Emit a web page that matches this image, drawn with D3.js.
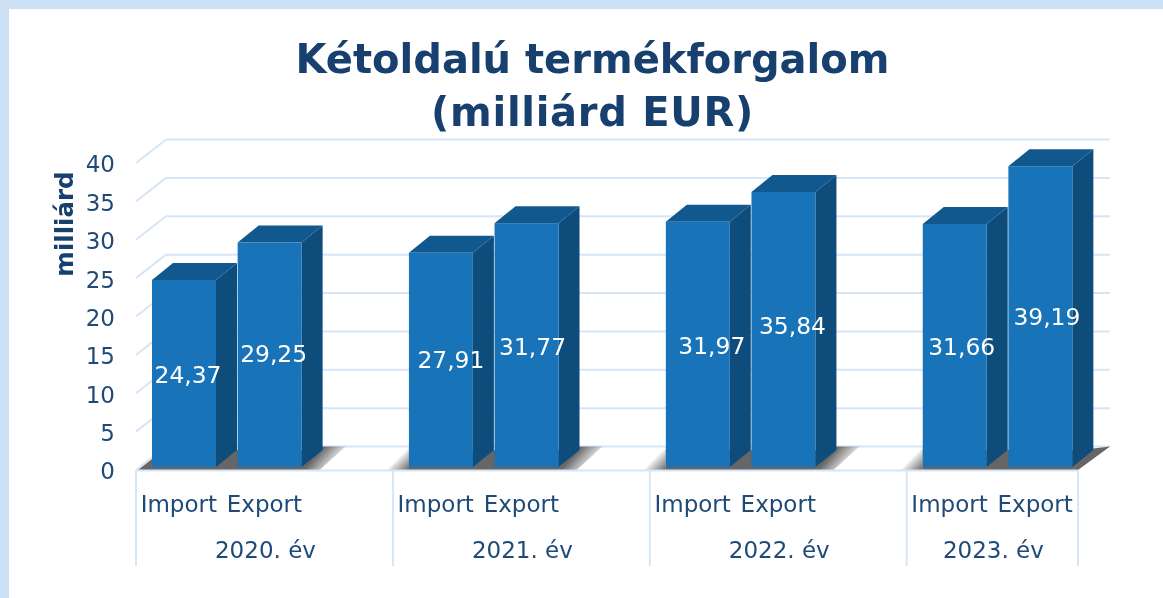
<!DOCTYPE html>
<html>
<head>
<meta charset="utf-8">
<script src="https://cdn.jsdelivr.net/npm/d3@7"></script>
<style>
    html, body { margin: 0; padding: 0; background: #fff; overflow: hidden; }
    svg { display: block; filter: blur(0.4px); }
    text { font-family: "DejaVu Sans", sans-serif; }
</style>
</head>
<body>
<div id="chart"></div>
<script>
const years = ['2020. év', '2021. év', '2022. év', '2023. év'];
const seriesNames = ['Import', 'Export'];
const importValues = [24.37, 27.91, 31.97, 31.66];
const exportValues = [29.25, 31.77, 35.84, 39.19];
const yTicks = [0, 5, 10, 15, 20, 25, 30, 35, 40];
// the source chart has its labels nudged by hand, off the bar centre
const importNudge = [4, 10, 14, 7];
const exportNudge = [4, 6, 9, 6.5];
const importLift = [0, 1, 0, 0];
const exportLift = [2, 0, 5, 1];

const width = 1163, height = 598;
const textColor = '#1f4a78';
const gridColor = '#d6e6f8';
const depthX = 30, depthY = 23.5;
const barDepthX = 21, barDepthY = 17;

const svg = d3.select('#chart').append('svg').attr('width', width).attr('height', height);
const defs = svg.append('defs');

// page frame
svg.append('rect').attr('width', width).attr('height', 9).attr('fill', '#cddff4');
svg.append('rect').attr('width', 9).attr('height', height).attr('fill', '#cddff4');

// 11 slots: two bars per year and an empty one between the years
const slots = [];
years.forEach((year, i) => {
    seriesNames.forEach(name => slots.push(year + '|' + name));
    if (i < years.length - 1) slots.push(year + '|gap');
});
const x = d3.scaleBand().domain(slots).range([136, 1078]);
const y = d3.scaleLinear().domain([0, 40]).range([470, 163]);
const barOffset = x.bandwidth() * 0.187;
const barWidth = x.bandwidth() * 0.747;
const barBase = 3;

// title
const title = svg.append('text')
    .attr('text-anchor', 'middle')
    .attr('font-size', 40)
    .attr('font-weight', 'bold')
    .attr('fill', '#17406f');
title.append('tspan').attr('x', 592.5).attr('y', 73).text('Kétoldalú termékforgalom');
title.append('tspan').attr('x', 592.5).attr('y', 126).attr('letter-spacing', 0.7).text('(milliárd EUR)');

// back wall and side wall grid
const wall = svg.append('g').attr('fill', 'none').attr('stroke', gridColor).attr('stroke-width', 2);
wall.selectAll('.back').data(yTicks).enter().append('line')
    .attr('class', 'back')
    .attr('x1', 136 + depthX).attr('x2', 1110)
    .attr('y1', d => y(d) - depthY).attr('y2', d => y(d) - depthY);
wall.selectAll('.side').data(yTicks).enter().append('line')
    .attr('class', 'side')
    .attr('x1', 136).attr('x2', 136 + depthX)
    .attr('y1', d => y(d)).attr('y2', d => y(d) - depthY);

// floor shadow
const shadowColor = '#666';
function fadeGradient(id, x1, y1, x2, y2) {
    const g = defs.append('linearGradient').attr('id', id)
        .attr('gradientUnits', 'userSpaceOnUse')
        .attr('x1', x1).attr('y1', y1).attr('x2', x2).attr('y2', y2);
    g.append('stop').attr('offset', 0).attr('stop-color', shadowColor);
    g.append('stop').attr('offset', 1).attr('stop-color', shadowColor).attr('stop-opacity', 0);
}
const shadow = svg.append('g');
const floorY = y(0);
const barBottom = floorY - barBase;
years.forEach((year, i) => {
    const left = x(year + '|Import') + barOffset;
    const right = x(year + '|Export') + barOffset + barWidth;
    const last = i === years.length - 1;

    shadow.append('polygon')
        .attr('points', [[left, barBottom], [left, barBottom - barDepthY], [right + barDepthX, barBottom - barDepthY], [right, floorY], [left, floorY]].join(' '))
        .attr('fill', shadowColor);

    if (i === 0) {
        shadow.append('polygon')
            .attr('points', [[left - 14, floorY], [left, floorY - 11], [left, floorY]].join(' '))
            .attr('fill', shadowColor);
    } else {
        fadeGradient('fade-left-' + i, left, floorY, left - 12, floorY - 12);
        shadow.append('polygon')
            .attr('points', [[left - 22, floorY], [left, floorY - 22], [left, floorY]].join(' '))
            .attr('fill', 'url(#fade-left-' + i + ')');
    }

    if (last) {
        shadow.append('polygon')
            .attr('points', [[right, floorY], [right + barDepthX, floorY - depthY + 2], [1110, floorY - depthY], [1078, floorY]].join(' '))
            .attr('fill', shadowColor);
    } else {
        fadeGradient('fade-right-' + i, right + 12, floorY - 12, right + 28, floorY + 2);
        shadow.append('polygon')
            .attr('points', [[right, floorY], [right + barDepthX, floorY - depthY], [right + 44, floorY - depthY], [right + 18, floorY]].join(' '))
            .attr('fill', 'url(#fade-right-' + i + ')');
    }
});

// bars
const bars = [];
years.forEach((year, i) => {
    bars.push({ slot: year + '|Import', value: importValues[i], nudge: importNudge[i], lift: importLift[i] });
    bars.push({ slot: year + '|Export', value: exportValues[i], nudge: exportNudge[i], lift: exportLift[i] });
});
const bar = svg.append('g').selectAll('g').data(bars).enter().append('g')
    .attr('transform', d => `translate(${x(d.slot) + barOffset},0)`);
const barTop = d => y(d.value) - barBase;

bar.append('polygon')
    .attr('points', d => [[barWidth, barTop(d)], [barWidth + barDepthX, barTop(d) - barDepthY], [barWidth + barDepthX, barBottom - barDepthY], [barWidth, barBottom]].join(' '))
    .attr('fill', '#0e4c7c');
bar.append('polygon')
    .attr('points', d => [[0, barTop(d)], [barDepthX, barTop(d) - barDepthY], [barWidth + barDepthX, barTop(d) - barDepthY], [barWidth, barTop(d)]].join(' '))
    .attr('fill', '#11588f');
bar.append('rect')
    .attr('y', barTop)
    .attr('width', barWidth)
    .attr('height', d => barBottom - barTop(d))
    .attr('fill', '#1873b9');

// value labels
bar.append('text')
    .attr('x', d => barWidth / 2 + d.nudge)
    .attr('y', d => (barTop(d) + barBottom) / 2 + 1 - d.lift)
    .attr('dy', '0.36em')
    .attr('text-anchor', 'middle')
    .attr('font-size', 23.4)
    .attr('fill', '#fff')
    .text(d => d.value.toFixed(2).replace('.', ','));

// category axis lines
const axisLines = svg.append('g').attr('stroke', gridColor).attr('stroke-width', 2);
axisLines.append('line').attr('x1', 136).attr('x2', 1078).attr('y1', floorY + 0.5).attr('y2', floorY + 0.5);
const separators = years.map(year => x(year + '|Import')).concat([x.range()[1]]);
axisLines.selectAll('.sep').data(separators).enter().append('line')
    .attr('class', 'sep')
    .attr('x1', d => d).attr('x2', d => d)
    .attr('y1', floorY).attr('y2', 566);

// category labels
svg.append('g').selectAll('text').data(bars).enter().append('text')
    .attr('x', d => x(d.slot) + x.bandwidth() / 2)
    .attr('y', 512)
    .attr('text-anchor', 'middle')
    .attr('font-size', 23)
    .attr('fill', textColor)
    .text(d => d.slot.split('|')[1]);
svg.append('g').selectAll('text').data(years).enter().append('text')
    .attr('x', (d, i) => (separators[i] + separators[i + 1]) / 2 + 1)
    .attr('y', 558)
    .attr('text-anchor', 'middle')
    .attr('font-size', 23)
    .attr('fill', textColor)
    .text(d => d);

// value axis
const yAxis = svg.append('g')
    .attr('transform', 'translate(115,1.5)')
    .call(d3.axisLeft(y).tickValues(yTicks).tickSize(0).tickPadding(0));
yAxis.select('.domain').remove();
yAxis.selectAll('text')
    .attr('font-family', '"DejaVu Sans", sans-serif')
    .attr('font-size', 23)
    .attr('fill', textColor);

svg.append('text')
    .attr('transform', 'translate(73,224) rotate(-90)')
    .attr('text-anchor', 'middle')
    .attr('font-size', 24.5)
    .attr('font-weight', 'bold')
    .attr('fill', '#17406f')
    .text('milliárd');
</script>
</body>
</html>
